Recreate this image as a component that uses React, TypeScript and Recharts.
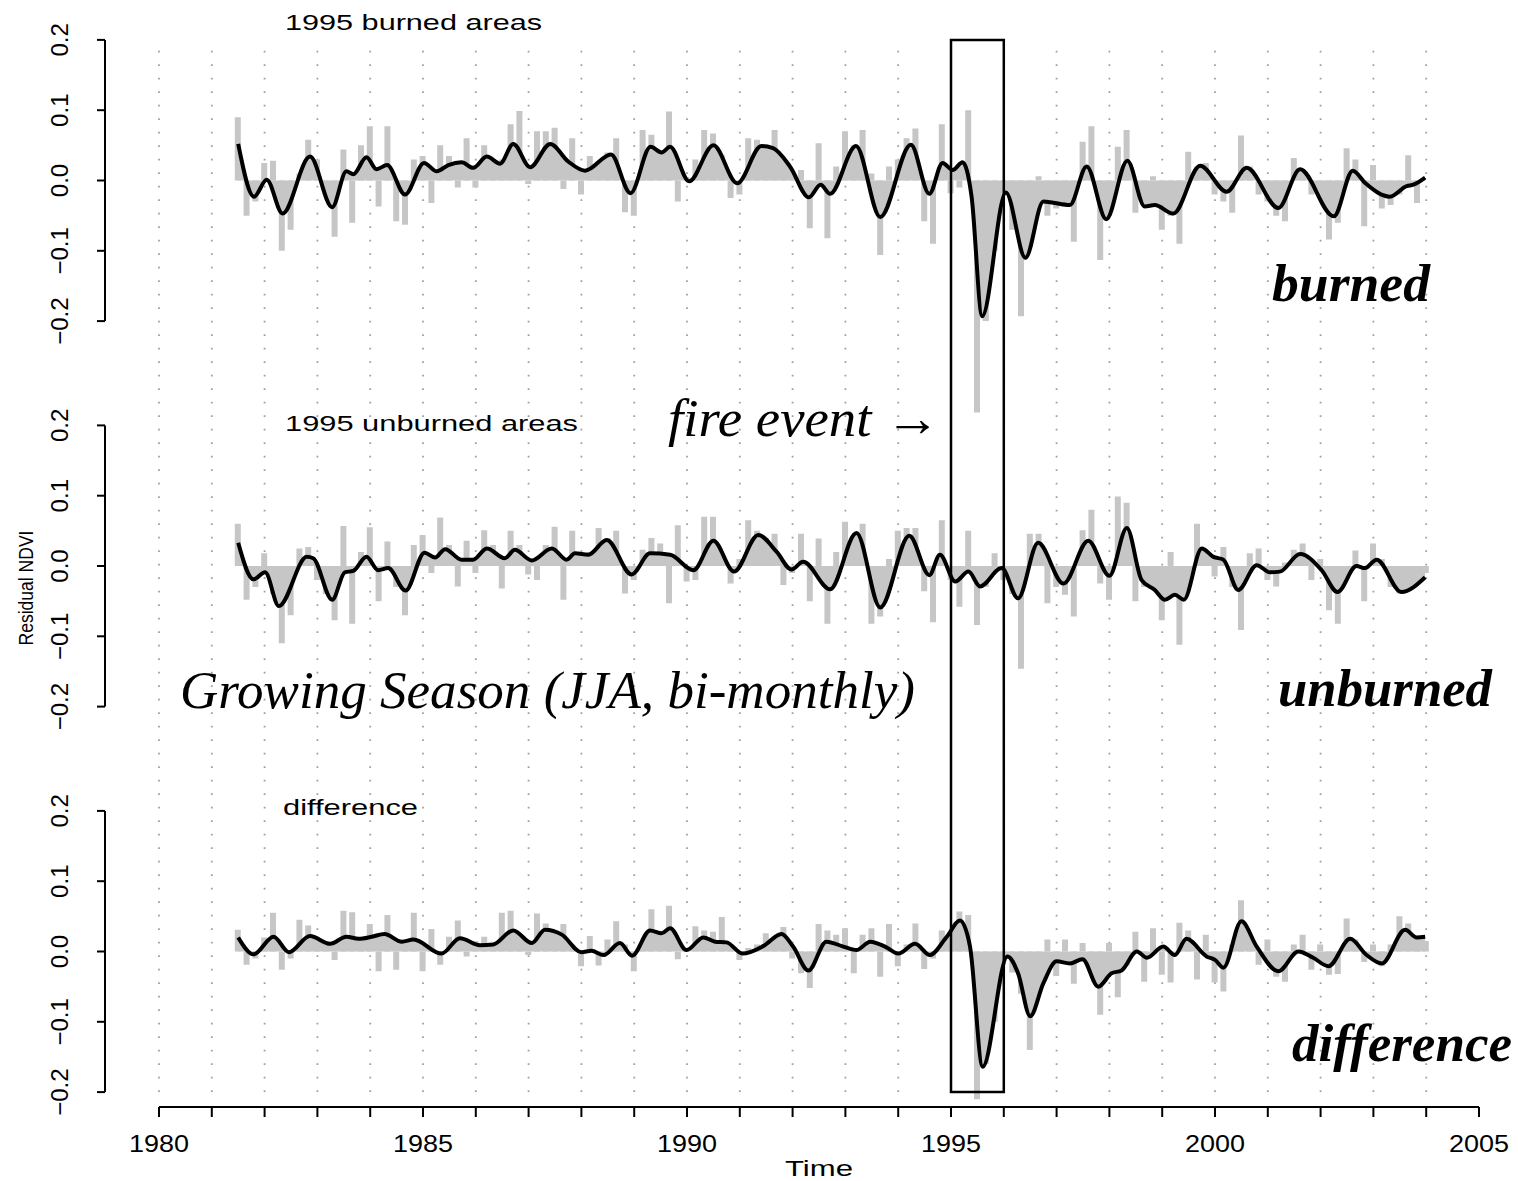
import React from 'react';
import {
  ComposedChart,
  Bar,
  Area,
  Line,
  XAxis,
  YAxis,
  ReferenceLine,
  ReferenceArea
} from 'recharts';

// Residual NDVI, growing season (JJA), six composites per year from mid-1981
const SERIES_START = 1981.5;
const PER_YEAR = 6;

const burnedBars = [
  0.09, -0.05, -0.03, 0.025, 0.028, -0.1,
  -0.07, 0.01, 0.058, 0.03, -0.01, -0.08,
  0.044, -0.06, 0.05, 0.077, -0.037, 0.077,
  -0.058, -0.063, 0.03, 0.035, -0.032, 0.05,
  0.035, -0.01, 0.06, -0.01, 0.05, 0.02,
  0.03, 0.08, 0.099, -0.005, 0.07, 0.07,
  0.075, -0.012, 0.06, -0.02, 0.035, 0.02,
  0.04, 0.06, -0.045, -0.05, 0.072, 0.065,
  0.034, 0.098, -0.03, 0.005, 0.03, 0.072,
  0.067, 0.036, -0.025, -0.02, 0.06, 0.058,
  0.045, 0.072, 0.03, 0.01, 0.015, -0.068,
  0.053, -0.082, 0.02, 0.07, 0.05, 0.072,
  0.01, -0.106, 0.02, 0.03, 0.06, 0.074,
  -0.058, -0.09, 0.08, -0.018, -0.01, 0.1,
  -0.33, -0.2, -0.1, -0.02, -0.07, -0.193,
  -0.094, 0.006, -0.05, -0.04, -0.03, -0.087,
  0.055, 0.077, -0.113, -0.05, 0.048, 0.072,
  -0.046, -0.03, 0.006, -0.07, -0.05, -0.09,
  0.041, 0.02, 0.025, -0.02, -0.03, -0.046,
  0.064, 0.02, -0.02, -0.03, -0.05, -0.058,
  0.032, 0.015, -0.02, -0.01, -0.084, -0.06,
  0.046, 0.03, -0.065, 0.022, -0.04, -0.035,
  -0.02, 0.036, -0.032, 0.0
];

const unburnedBars = [
  0.06, -0.048, -0.03, 0.018, -0.04, -0.11,
  -0.07, 0.025, 0.027, -0.02, -0.04, -0.077,
  0.057, -0.082, 0.02, 0.055, -0.05, 0.035,
  -0.03, -0.07, 0.03, 0.044, -0.01, 0.069,
  0.03, -0.029, 0.036, -0.01, 0.051, 0.03,
  -0.032, 0.05, 0.03, -0.012, -0.02, 0.03,
  0.056, -0.048, 0.05, 0.01, 0.02, 0.054,
  0.04, 0.05, -0.039, -0.02, 0.023, 0.04,
  0.032, -0.053, 0.058, -0.022, -0.02, 0.07,
  0.07, 0.01, -0.025, 0.01, 0.065, 0.05,
  0.04, 0.046, -0.027, -0.01, 0.046, -0.05,
  0.039, -0.082, 0.02, 0.063, 0.04, 0.06,
  -0.082, -0.072, 0.01, 0.05, 0.054, 0.054,
  -0.036, -0.08, 0.065, -0.02, -0.058, 0.05,
  -0.084, -0.03, 0.018, -0.02, -0.04, -0.146,
  0.046, 0.046, -0.053, -0.03, -0.041, -0.072,
  0.051, 0.08, -0.025, -0.048, 0.099, 0.09,
  -0.05, -0.03, -0.02, -0.077, 0.02, -0.112,
  -0.03, 0.06, 0.02, -0.015, 0.027, -0.03,
  -0.091, 0.018, 0.025, -0.02, -0.029, 0.005,
  0.023, 0.032, -0.02, 0.01, -0.063, -0.082,
  0.0, 0.022, -0.05, 0.032, 0.01, -0.03,
  -0.039, -0.03, -0.02, -0.01
];

const differenceBars = [
  0.031, -0.019, -0.01, 0.02, 0.055, -0.026,
  -0.01, 0.045, 0.037, 0.02, 0.01, -0.012,
  0.058, 0.056, 0.015, 0.039, -0.028, 0.052,
  -0.026, 0.01, 0.055, -0.028, 0.032, -0.019,
  0.021, 0.044, -0.007, 0.015, 0.021, 0.01,
  0.055, 0.058, 0.02, -0.005, 0.054, 0.04,
  0.025, 0.039, 0.01, -0.021, 0.022, -0.02,
  0.017, 0.043, 0.01, -0.028, 0.01, 0.06,
  0.02, 0.065, -0.011, 0.005, 0.036, 0.03,
  0.028, 0.049, 0.01, -0.012, 0.005, 0.01,
  0.026, 0.015, 0.035, -0.01, -0.031, -0.052,
  0.039, 0.03, 0.024, 0.033, -0.031, 0.024,
  0.033, -0.036, 0.039, -0.021, 0.01, 0.04,
  -0.025, -0.01, 0.03, 0.02, 0.057, 0.052,
  -0.21, -0.16, -0.1, -0.01, -0.03, -0.06,
  -0.14, -0.06, 0.017, -0.035, 0.017, -0.046,
  0.012, -0.03, -0.09, 0.012, -0.065, -0.02,
  0.028, -0.043, 0.033, -0.033, -0.044, 0.041,
  0.03, -0.04, 0.024, -0.044, -0.057, 0.01,
  0.073, 0.02, -0.019, 0.017, -0.036, -0.043,
  0.01, 0.024, -0.026, 0.01, -0.033, -0.032,
  0.047, 0.017, -0.015, 0.01, -0.021, 0.01,
  0.05, 0.04, 0.02, 0.015
];

// smoothed curves: [time, residual]
const burnedSmooth: [number, number][] = [
  [1981.5, 0.052], [1981.8, -0.023], [1982.04, 0.001], [1982.34, -0.047], [1982.86, 0.034],
  [1983.28, -0.038], [1983.55, 0.013], [1983.68, 0.009], [1983.93, 0.033], [1984.12, 0.016],
  [1984.32, 0.022], [1984.66, -0.02], [1985.02, 0.025], [1985.26, 0.013], [1985.48, 0.022],
  [1985.73, 0.026], [1985.95, 0.018], [1986.21, 0.034], [1986.46, 0.024], [1986.71, 0.052],
  [1987.03, 0.019], [1987.41, 0.052], [1987.75, 0.027], [1988.07, 0.014], [1988.56, 0.037],
  [1988.93, -0.018], [1989.31, 0.048], [1989.52, 0.04], [1989.68, 0.048], [1990.04, -0.001],
  [1990.5, 0.05], [1990.95, -0.004], [1991.41, 0.049], [1991.63, 0.046], [1991.95, 0.02],
  [1992.31, -0.024], [1992.53, -0.006], [1992.71, -0.019], [1993.2, 0.049], [1993.66, -0.052],
  [1994.24, 0.051], [1994.59, -0.019], [1994.84, 0.025], [1995.03, 0.015], [1995.22, 0.026],
  [1995.39, -0.023], [1995.59, -0.193], [1996.04, -0.017], [1996.41, -0.11], [1996.75, -0.03],
  [1996.88, -0.031], [1997.25, -0.035], [1997.57, 0.02], [1997.94, -0.055], [1998.34, 0.028],
  [1998.67, -0.037], [1998.86, -0.035], [1999.21, -0.047], [1999.72, 0.021], [2000.22, -0.016],
  [2000.6, 0.018], [2001.2, -0.039], [2001.61, 0.016], [2002.25, -0.051], [2002.61, 0.014],
  [2002.85, -0.004], [2003.31, -0.023], [2003.63, -0.008], [2003.76, -0.006], [2003.98, 0.004]
];

const unburnedSmooth: [number, number][] = [
  [1981.5, 0.033], [1981.79, -0.019], [1982.01, -0.009], [1982.27, -0.057], [1982.8, 0.013],
  [1982.92, 0.011], [1983.28, -0.048], [1983.52, -0.009], [1983.68, -0.007], [1983.93, 0.013],
  [1984.15, -0.006], [1984.34, -0.003], [1984.67, -0.035], [1985.03, 0.019], [1985.23, 0.012],
  [1985.42, 0.024], [1985.73, 0.009], [1985.95, 0.009], [1986.21, 0.025], [1986.55, 0.011],
  [1986.74, 0.023], [1987.06, 0.008], [1987.44, 0.025], [1987.72, 0.009], [1987.88, 0.018],
  [1988.13, 0.016], [1988.48, 0.037], [1988.95, -0.012], [1989.3, 0.018], [1989.68, 0.016],
  [1990.12, -0.006], [1990.5, 0.036], [1990.89, -0.008], [1991.35, 0.044], [1991.7, 0.02],
  [1991.98, -0.005], [1992.2, 0.006], [1992.71, -0.033], [1993.21, 0.047], [1993.66, -0.059],
  [1994.21, 0.043], [1994.59, -0.013], [1994.79, 0.016], [1995.08, -0.022], [1995.33, -0.008],
  [1995.55, -0.029], [1995.96, -0.003], [1996.27, -0.046], [1996.65, 0.033], [1997.13, -0.025],
  [1997.6, 0.036], [1998.0, -0.014], [1998.33, 0.054], [1998.61, -0.02], [1998.86, -0.034],
  [1999.05, -0.048], [1999.24, -0.041], [1999.41, -0.048], [1999.75, 0.025], [1999.97, 0.013],
  [2000.16, 0.009], [2000.44, -0.034], [2000.79, 0.001], [2001.04, -0.009], [2001.23, -0.008],
  [2001.61, 0.017], [2002.02, -0.006], [2002.32, -0.037], [2002.68, 0.0], [2002.84, -0.003],
  [2003.06, 0.009], [2003.53, -0.037], [2003.98, -0.016]
];

const differenceSmooth: [number, number][] = [
  [1981.5, 0.02], [1981.79, -0.004], [1982.17, 0.021], [1982.46, -0.001], [1982.86, 0.022],
  [1983.24, 0.011], [1983.55, 0.021], [1983.78, 0.018], [1984.03, 0.021], [1984.27, 0.025],
  [1984.6, 0.014], [1984.82, 0.017], [1985.35, -0.003], [1985.7, 0.019], [1986.08, 0.009],
  [1986.33, 0.01], [1986.71, 0.03], [1987.06, 0.012], [1987.31, 0.031], [1987.63, 0.024],
  [1988.0, -0.001], [1988.19, 0.001], [1988.42, -0.005], [1988.73, 0.012], [1988.96, -0.006],
  [1989.3, 0.03], [1989.52, 0.026], [1989.68, 0.033], [1989.99, 0.002], [1990.31, 0.02],
  [1990.53, 0.014], [1990.75, 0.013], [1991.05, -0.003], [1991.45, 0.008], [1991.79, 0.025],
  [1992.01, 0.007], [1992.3, -0.027], [1992.64, 0.014], [1992.96, 0.007], [1993.21, 0.002],
  [1993.47, 0.014], [1993.75, 0.007], [1994.0, -0.003], [1994.32, 0.011], [1994.6, -0.005],
  [1994.92, 0.021], [1995.17, 0.044], [1995.36, 0.007], [1995.6, -0.164], [1996.07, -0.007],
  [1996.27, -0.031], [1996.5, -0.092], [1996.75, -0.045], [1997.0, -0.014], [1997.25, -0.017],
  [1997.49, -0.011], [1997.79, -0.05], [1998.04, -0.031], [1998.23, -0.027], [1998.52, 0.0],
  [1998.71, -0.009], [1999.02, 0.007], [1999.24, -0.005], [1999.46, 0.018], [1999.84, -0.007],
  [2000.0, -0.012], [2000.16, -0.023], [2000.5, 0.043], [2000.79, 0.007], [2001.2, -0.028],
  [2001.58, 0.0], [2001.86, -0.009], [2002.15, -0.021], [2002.56, 0.018], [2002.87, -0.005],
  [2003.16, -0.017], [2003.6, 0.031], [2003.82, 0.02], [2003.98, 0.021]
];

const gridYears = [
  1980, 1981, 1982, 1983, 1984, 1985, 1986, 1987, 1988, 1989, 1990, 1991, 1992,
  1993, 1994, 1995, 1996, 1997, 1998, 1999, 2000, 2001, 2002, 2003, 2004
];
const axisYears = [...gridYears, 2005];
const yTicks = [-0.2, -0.1, 0, 0.1, 0.2];
const fireStart = 1995;
const fireEnd = 1996;

// page geometry
const W = 1518;
const H = 1181;
const X_LEFT = 159; // 1980
const X_RIGHT = 1479; // 2005
const Y_AXIS_X = 105;
const YEAR_PX = (X_RIGHT - X_LEFT) / 25;
const X_AXIS_START = 1980 - (X_LEFT - Y_AXIS_X) / YEAR_PX;
const UNIT = 703; // px per 1.0 of NDVI
const TIME_AXIS_Y = 1107;
const XAXIS_H = 40;

const GRAY = '#c6c6c6';
const SANS = '"Liberation Sans", Arial, Helvetica, sans-serif';
const SERIF = '"Times New Roman", "Liberation Serif", Times, serif';

const layer: React.CSSProperties = { position: 'absolute', left: 0, top: 0 };

const fmt = (v: number) => v.toFixed(1).replace('-', '\u2212');

const YTick = ({ x, y, payload }: any) => {
  const bx = x - 27;
  return (
    <text
      x={bx}
      y={y}
      transform={`rotate(-90 ${bx} ${y})`}
      textAnchor="middle"
      fontFamily={SANS}
      fontSize={24}
      fill="#000"
    >
      {fmt(payload.value)}
    </text>
  );
};

const XTick = ({ x, y, payload }: any) =>
  payload.value % 5 === 0 ? (
    <text
      x={x}
      y={y + 33}
      textAnchor="middle"
      fontFamily={SANS}
      fontSize={24}
      textLength={60}
      lengthAdjust="spacingAndGlyphs"
      fill="#000"
    >
      {payload.value}
    </text>
  ) : (
    <g />
  );

interface PanelProps {
  bars: number[];
  smooth: [number, number][];
  zeroY: number;
  barLo: number;
  timeAxis?: boolean;
}

const BAR_HI = 0.25;

const PanelBars: React.FC<PanelProps> = ({ bars, zeroY, barLo, timeAxis }) => {
  const rows = bars.map((v, i) => ({ t: SERIES_START + i / PER_YEAR, v }));
  const top = zeroY - BAR_HI * UNIT;
  const bottom = H - (zeroY - barLo * UNIT) - (timeAxis ? XAXIS_H : 0);
  return (
    <div style={layer}>
      <ComposedChart
        width={W}
        height={H}
        data={rows}
        margin={{ top, bottom, left: X_LEFT, right: W - X_RIGHT }}
      >
        <XAxis
          type="number"
          dataKey="t"
          domain={[1980, 2005]}
          allowDataOverflow
          hide={!timeAxis}
          height={XAXIS_H}
          ticks={axisYears}
          interval={0}
          tickSize={10}
          axisLine={{ stroke: '#000', strokeWidth: 2 }}
          tickLine={{ stroke: '#000', strokeWidth: 2 }}
          tick={<XTick />}
        />
        <YAxis type="number" domain={[barLo, BAR_HI]} allowDataOverflow hide />
        <Bar dataKey="v" fill={GRAY} barSize={6} isAnimationActive={false} />
      </ComposedChart>
    </div>
  );
};

const PanelSmooth: React.FC<PanelProps> = ({ smooth, zeroY }) => {
  const rows = smooth.map(([t, v]) => ({ t, v }));
  return (
    <div style={layer}>
      <ComposedChart
        width={W}
        height={H}
        data={rows}
        margin={{
          top: zeroY - 0.2 * UNIT,
          bottom: H - (zeroY + 0.2 * UNIT),
          left: 0,
          right: W - X_RIGHT
        }}
      >
        <XAxis type="number" dataKey="t" domain={[X_AXIS_START, 2005]} allowDataOverflow hide />
        <YAxis
          type="number"
          domain={[-0.2, 0.2]}
          allowDataOverflow
          width={Y_AXIS_X}
          ticks={yTicks}
          interval={0}
          tickSize={8}
          axisLine={{ stroke: '#000', strokeWidth: 2 }}
          tickLine={{ stroke: '#000', strokeWidth: 2 }}
          tick={<YTick />}
        />
        <Area
          type="monotone"
          dataKey="v"
          baseValue={0}
          fill={GRAY}
          fillOpacity={1}
          stroke="none"
          isAnimationActive={false}
        />
        <Line
          type="monotone"
          dataKey="v"
          stroke="#000"
          strokeWidth={4}
          dot={false}
          activeDot={false}
          isAnimationActive={false}
        />
      </ComposedChart>
    </div>
  );
};

const FRAME_TOP = 180.5 - 0.2 * UNIT;
const FRAME_BOTTOM = 951.5 + 0.2 * UNIT;

const Frame: React.FC<{ grid?: boolean }> = ({ grid }) => (
  <div style={layer}>
    <ComposedChart
      width={W}
      height={H}
      data={gridYears.map((t) => ({ t }))}
      margin={{ top: FRAME_TOP, bottom: H - FRAME_BOTTOM, left: X_LEFT, right: W - X_RIGHT }}
    >
      <XAxis type="number" dataKey="t" domain={[1980, 2005]} allowDataOverflow hide />
      <YAxis type="number" domain={[0, 1]} allowDataOverflow hide />
      {grid &&
        gridYears.map((yr) => (
          <ReferenceLine
            key={yr}
            x={yr}
            stroke="#a0a0a0"
            strokeWidth={1.8}
            strokeDasharray="1.8 11.7"
          />
        ))}
      {!grid && (
        <ReferenceArea
          x1={fireStart}
          x2={fireEnd}
          y1={0}
          y2={1}
          fill="none"
          fillOpacity={0}
          stroke="#000"
          strokeWidth={2.5}
          strokeOpacity={1}
        />
      )}
    </ComposedChart>
  </div>
);

const panels: PanelProps[] = [
  { bars: burnedBars, smooth: burnedSmooth, zeroY: 180.5, barLo: -0.36 },
  { bars: unburnedBars, smooth: unburnedSmooth, zeroY: 566, barLo: -0.25 },
  {
    bars: differenceBars,
    smooth: differenceSmooth,
    zeroY: 951.5,
    barLo: -(TIME_AXIS_Y - 951.5) / UNIT,
    timeAxis: true
  }
];

const Annotations = () => (
  <svg width={W} height={H} style={{ ...layer, pointerEvents: 'none' }}>
    <g fontFamily={SANS} fill="#000">
      <text x={285} y={30} fontSize={22} textLength={257} lengthAdjust="spacingAndGlyphs">
        1995 burned areas
      </text>
      <text x={285} y={431} fontSize={22} textLength={293} lengthAdjust="spacingAndGlyphs">
        1995 unburned areas
      </text>
      <text x={283} y={815} fontSize={22} textLength={135} lengthAdjust="spacingAndGlyphs">
        difference
      </text>
      <text
        x={33}
        y={588}
        fontSize={21}
        textAnchor="middle"
        textLength={115}
        lengthAdjust="spacingAndGlyphs"
        transform="rotate(-90 33 588)"
      >
        Residual NDVI
      </text>
      <text
        x={819}
        y={1176}
        fontSize={22}
        textAnchor="middle"
        textLength={68}
        lengthAdjust="spacingAndGlyphs"
      >
        Time
      </text>
    </g>
    <g fontFamily={SERIF} fill="#000" fontSize={53}>
      <text x={1272} y={301} fontWeight="bold" fontStyle="italic" textLength={158} lengthAdjust="spacingAndGlyphs">
        burned
      </text>
      <text x={1278} y={706} fontWeight="bold" fontStyle="italic" textLength={214} lengthAdjust="spacingAndGlyphs">
        unburned
      </text>
      <text x={1292} y={1061} fontWeight="bold" fontStyle="italic" textLength={220} lengthAdjust="spacingAndGlyphs">
        difference
      </text>
      <text x={668} y={436} fontStyle="italic" textLength={272} lengthAdjust="spacingAndGlyphs">
        fire event →
      </text>
      <text x={180} y={708} fontStyle="italic" textLength={735} lengthAdjust="spacingAndGlyphs">
        Growing Season (JJA, bi-monthly)
      </text>
    </g>
  </svg>
);

const App: React.FC = () => (
  <div style={{ position: 'absolute', left: 0, top: 0, width: W, height: H, background: '#fff' }}>
    <Frame grid />
    {panels.map((p, i) => (
      <PanelBars key={`b${i}`} {...p} />
    ))}
    {panels.map((p, i) => (
      <PanelSmooth key={`s${i}`} {...p} />
    ))}
    <Frame />
    <Annotations />
  </div>
);

export default App;
